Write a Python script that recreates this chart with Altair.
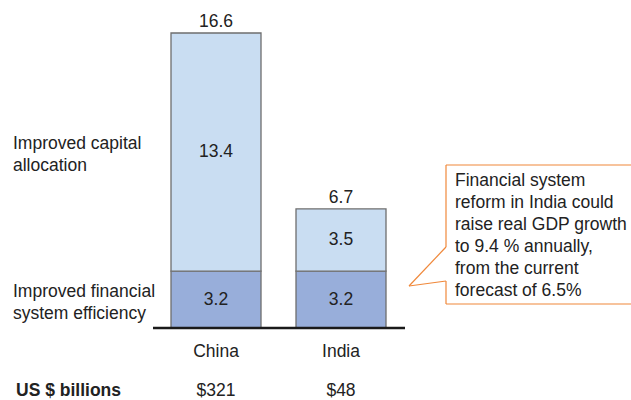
import altair as alt
import pandas as pd

countries = ["China", "India"]
efficiency = [3.2, 3.2]
allocation = [13.4, 3.5]
totals = [16.6, 6.7]
gdp_labels = ["$321", "$48"]
segment_names = ["Improved financial\nsystem efficiency", "Improved capital\nallocation"]
callout_text = "Financial system\nreform in India could\nraise real GDP growth\nto 9.4 % annually,\nfrom the current\nforecast of 6.5%"

rows = []
for c, e, a in zip(countries, efficiency, allocation):
    rows.append({"country": c, "segment": "eff", "y0": 0, "y1": e, "mid": e / 2, "label": f"{e:.1f}"})
    rows.append({"country": c, "segment": "alloc", "y0": e, "y1": e + a, "mid": e + a / 2, "label": f"{a:.1f}"})
bars = pd.DataFrame(rows)
tot = pd.DataFrame({"country": countries, "total": totals, "label": [f"{t:.1f}" for t in totals], "gdp": gdp_labels})
left = pd.DataFrame({"name": segment_names, "mid": [efficiency[0] / 2, efficiency[0] + allocation[0] / 2]})

FONT = "Liberation Sans"
FS = 17.5
xs = alt.Scale(domain=countries, range=[153.5, 403.5], paddingInner=0.28, paddingOuter=0.14)
ys = alt.Scale(domain=[0, max(totals)], range=[328, 33], nice=False, zero=True)

X = alt.X("country:N", scale=xs, axis=None)

bar_layer = alt.Chart(bars).mark_bar(stroke="#6e6e6e", strokeWidth=1.3).encode(
    x=X,
    y=alt.Y("y0:Q", scale=ys, axis=None),
    y2="y1:Q",
    color=alt.Color("segment:N", scale=alt.Scale(domain=["eff", "alloc"], range=["#98AEDA", "#C9DDF2"]), legend=None),
)

seg_text = alt.Chart(bars).mark_text(font=FONT, fontSize=FS, color="#222222", baseline="middle").encode(
    x=X, y=alt.Y("mid:Q", scale=ys), text="label:N"
)

tot_text = alt.Chart(tot).mark_text(font=FONT, fontSize=FS, color="#222222", baseline="alphabetic", dy=-6).encode(
    x=X, y=alt.Y("total:Q", scale=ys), text="label:N"
)

cat_text = alt.Chart(tot).mark_text(font=FONT, fontSize=FS, color="#222222", baseline="middle").encode(
    x=X, y=alt.value(352), text="country:N"
)

gdp_text = alt.Chart(tot).mark_text(font=FONT, fontSize=FS, color="#222222", baseline="middle").encode(
    x=X, y=alt.value(391), text="gdp:N"
)

unit_text = alt.Chart(pd.DataFrame({"t": ["US $ billions"]})).mark_text(
    font=FONT, fontSize=FS, fontWeight="bold", color="#222222", align="left", baseline="middle"
).encode(x=alt.value(16), y=alt.value(391), text="t:N")

left_text = alt.Chart(left).mark_text(
    font=FONT, fontSize=FS, color="#222222", align="left", baseline="middle", lineBreak="\n", lineHeight=22, dy=-8
).encode(x=alt.value(13), y=alt.Y("mid:Q", scale=ys), text="name:N")

base = alt.Chart(pd.DataFrame({"v": [0]})).mark_rule(color="#1a1a1a", strokeWidth=2.5).encode(
    x=alt.value(153), x2=alt.value(405), y=alt.Y("v:Q", scale=ys)
)

# callout outline segments
segs = [
    (446, 165, 640, 165),
    (446, 165, 446, 247),
    (446, 247, 409, 286),
    (409, 286, 446, 281),
    (446, 281, 446, 304),
    (446, 304, 640, 304),
]
callout_layers = []
for x1, y1, x2, y2 in segs:
    callout_layers.append(
        alt.Chart(pd.DataFrame({"d": [0]})).mark_rule(color="#F0883A", strokeWidth=1.2).encode(
            x=alt.value(x1), y=alt.value(y1), x2=alt.value(x2), y2=alt.value(y2)
        )
    )

callout = alt.Chart(pd.DataFrame({"t": [callout_text]})).mark_text(
    font=FONT, fontSize=FS, color="#222222", align="left", baseline="top", lineBreak="\n", lineHeight=22
).encode(x=alt.value(455), y=alt.value(172), text="t:N")

chart = alt.layer(
    bar_layer, seg_text, tot_text, cat_text, gdp_text, unit_text, left_text, base, *callout_layers, callout
).properties(
    width=631, height=400, autosize=alt.AutoSizeParams(type="none"), padding=0, background="white"
).configure_view(stroke=None)

chart.save("out.html", embed_options={"renderer": "svg", "actions": False})
